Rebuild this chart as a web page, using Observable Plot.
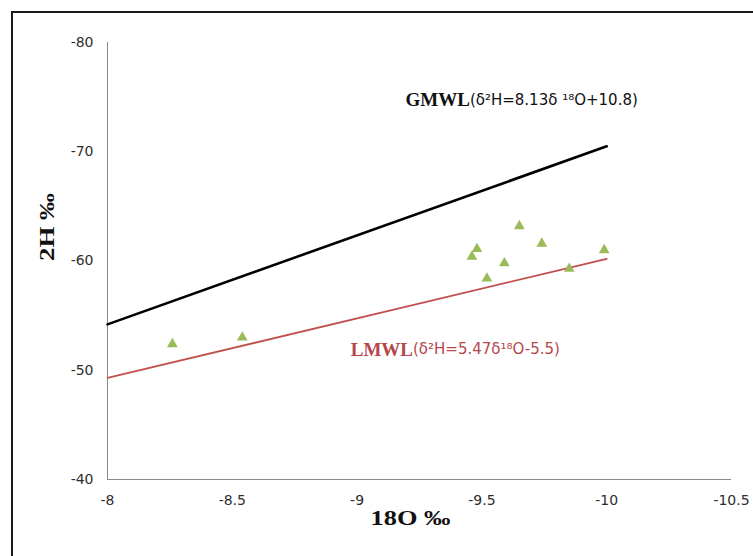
<!DOCTYPE html>
<html>
<head>
<meta charset="utf-8">
<script src="https://cdn.jsdelivr.net/npm/d3@7"></script>
<script src="https://cdn.jsdelivr.net/npm/@observablehq/plot@0.6"></script>
<style>
  html, body { margin: 0; padding: 0; background: #fff; overflow: hidden; }
  #topline { position: absolute; left: 11px; top: 11px; width: 742px; height: 2px; background: #1a1a1a; }
  #leftline { position: absolute; left: 11px; top: 11px; width: 2px; height: 545px; background: #1a1a1a; }
  #chart { position: absolute; left: 0; top: 0; width: 753px; height: 556px; overflow: hidden; }
  #chart svg { max-width: none !important; }
</style>
</head>
<body>
<div id="chart"></div>
<div id="topline"></div>
<div id="leftline"></div>
<script>
// Sample data (δ18O ‰, δ2H ‰)
const d18O = [-8.26, -8.54, -9.46, -9.48, -9.52, -9.59, -9.65, -9.74, -9.85, -9.99];
const d2H  = [-52.4, -53.0, -60.4, -61.1, -58.4, -59.8, -63.2, -61.6, -59.3, -61.0];

// Meteoric water lines (end points)
const gmwlX = [-8, -10];
const gmwlY = [-54.2, -70.5];
const lmwlX = [-8, -10];
const lmwlY = [-49.3, -60.2];

// Tick values
const xTicks = [-8, -8.5, -9, -9.5, -10, -10.5];
const yTicks = [-40, -50, -60, -70, -80];

// Line labels
const gmwlName = "GMWL";
const gmwlEq = "(δ²H=8.13δ ¹⁸O+10.8)";
const gmwlLabelPos = [-9.452, -74.7];
const lmwlName = "LMWL";
const lmwlEq = "(δ²H=5.47δ¹⁸O-5.5)";
const lmwlLabelPos = [-9.224, -51.9];

const xTitle = "18O ‰";
const yTitle = "2H ‰";

const points = d18O.map((x, i) => ({x, y: d2H[i]}));
const gmwl = gmwlX.map((x, i) => ({x, y: gmwlY[i]}));
const lmwl = lmwlX.map((x, i) => ({x, y: lmwlY[i]}));

const serif = "'Liberation Serif', 'Times New Roman', serif";
const sans = "'DejaVu Sans', Verdana, sans-serif";
const red = "#c0504d";

const chart = Plot.plot({
  width: 753,
  height: 556,
  marginLeft: 107,
  marginRight: 22,
  marginTop: 42,
  marginBottom: 77,
  style: { background: "transparent", fontFamily: sans, fontSize: "14px", color: "#2e2e2e" },
  x: { domain: [-8, -10.5] },
  y: { domain: [-40, -80] },
  marks: [
    Plot.ruleX([-8], { stroke: "#8a8a8a", strokeWidth: 1 }),
    Plot.ruleY([-40], { stroke: "#8a8a8a", strokeWidth: 1 }),
    Plot.axisX({ ticks: xTicks, tickSize: 0, tickPadding: 16, tickFormat: d => String(d), label: null, fontSize: 14, fill: "#2e2e2e" }),
    Plot.axisY({ ticks: yTicks, tickSize: 0, tickPadding: 14, tickFormat: d => String(d), label: null, fontSize: 14, fill: "#2e2e2e" }),
    Plot.line(gmwl, { x: "x", y: "y", stroke: "#000", strokeWidth: 2.6 }),
    Plot.line(lmwl, { x: "x", y: "y", stroke: red, strokeWidth: 1.8 }),
    Plot.dot(points, { x: "x", y: "y", symbol: "triangle", r: 4, fill: "#9bbb59", stroke: "none" }),
    Plot.text([gmwlName], { x: () => gmwlLabelPos[0], y: () => gmwlLabelPos[1], text: d => d, textAnchor: "end", fontFamily: serif, fontWeight: "bold", fontSize: 19, fill: "#111" }),
    Plot.text([gmwlEq], { x: () => gmwlLabelPos[0], y: () => gmwlLabelPos[1], text: d => d, textAnchor: "start", fontFamily: sans, fontSize: 15, fill: "#111" }),
    Plot.text([lmwlName], { x: () => lmwlLabelPos[0], y: () => lmwlLabelPos[1], text: d => d, textAnchor: "end", fontFamily: serif, fontWeight: "bold", fontSize: 19, fill: "#b5474b" }),
    Plot.text([lmwlEq], { x: () => lmwlLabelPos[0], y: () => lmwlLabelPos[1], text: d => d, textAnchor: "start", fontFamily: sans, fontSize: 15, fill: "#b5474b" }),
    Plot.text([xTitle], { frameAnchor: "bottom", dx: -9, dy: 39, text: d => d, fontFamily: serif, fontWeight: "bold", fontSize: 21, fill: "#111", lineAnchor: "middle" }),
    Plot.text([yTitle], { frameAnchor: "left", dx: -60, rotate: -90, text: d => d, fontFamily: serif, fontWeight: "bold", fontSize: 21, fill: "#111", lineAnchor: "middle" })
  ]
});
// stretch the axis titles to the width seen in the reference
d3.select(chart).selectAll("text").each(function () {
  const t = this.textContent;
  if (t === xTitle) d3.select(this).attr("textLength", 80).attr("lengthAdjust", "spacingAndGlyphs");
  if (t === yTitle) d3.select(this).attr("textLength", 68).attr("lengthAdjust", "spacingAndGlyphs");
});
document.getElementById("chart").appendChild(chart);
</script>
</body>
</html>
